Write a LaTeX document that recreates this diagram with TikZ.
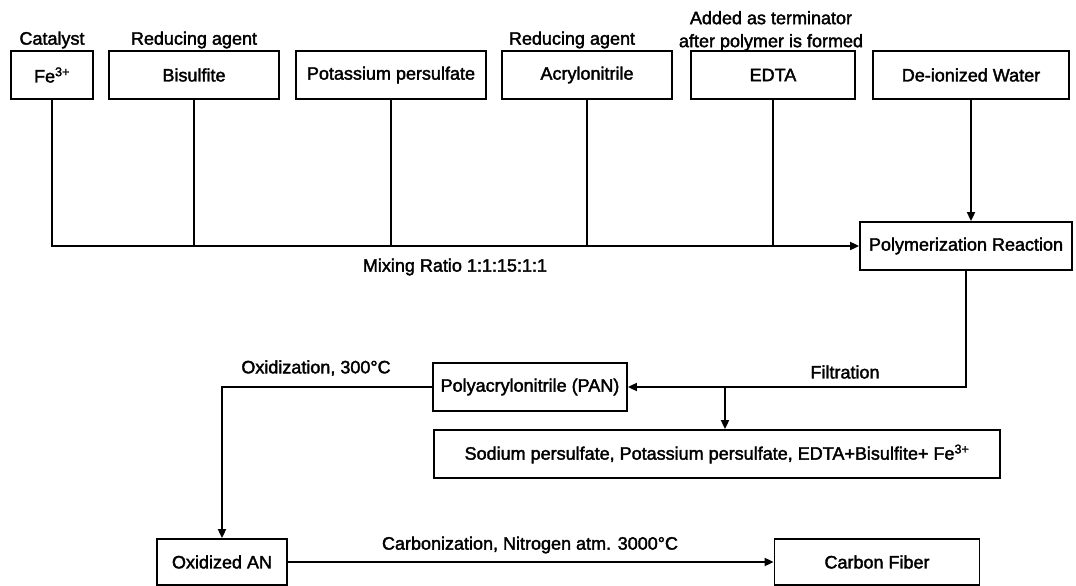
\documentclass[tikz,border=0pt]{standalone}
\usepackage{fontspec}
\setmainfont[FakeBold=2]{Liberation Sans}
\usetikzlibrary{arrows.meta,calc}
\begin{document}
\begin{tikzpicture}[x=1pt,y=-1pt,
  txt/.style={font=\fontsize{18}{23}\selectfont},
  box/.style={txt, draw, line width=1.8pt, inner sep=0pt, align=center, minimum height=48pt},
  lbl/.style={txt, inner sep=0pt, align=center},
  flow/.style={line width=1.8pt},
  arr/.style={flow, -{Triangle[length=9pt,width=8pt]}}]
\useasboundingbox (0,0) rectangle (1076,586);

% feed components
\node[box, minimum width=82pt]  (fe)    at (52,75)  {Fe\textsuperscript{3+}};
\node[box, minimum width=170pt] (bis)   at (194,75) {Bisulfite};
\node[box, minimum width=190pt] (kps)   at (391,75) {Potassium persulfate};
\node[box, minimum width=170pt] (acr)   at (587,75) {Acrylonitrile};
\node[box, minimum width=164pt] (edta)  at (773,75) {EDTA};
\node[box, minimum width=196pt] (water) at (971,75) {De-ionized Water};

% role labels above the feeds
\node[lbl] (lcat)  at (52,40)  {Catalyst};
\node[lbl] (lred1) at (194,40) {Reducing agent};
\node[lbl] (lred2) at (572,40) {Reducing agent};
\node[lbl] (lterm) at (771,31) {Added as terminator\\after polymer is formed};

% process steps
\node[box, minimum width=212pt] (poly)   at (966,246) {Polymerization Reaction};
\node[box, minimum width=194pt] (pan)    at (530,387) {Polyacrylonitrile (PAN)};
\node[box, minimum width=566pt] (sod)    at (717,454) {Sodium persulfate, Potassium persulfate, EDTA+Bisulfite+ Fe\textsuperscript{3+}};
\node[box, minimum width=130pt, minimum height=46pt] (oxan)   at (222,562) {Oxidized AN};
\node[box, minimum width=205pt, minimum height=46pt] (carbon) at (877,562) {Carbon Fiber};

% step labels
\node[lbl] (lmix)  at (455,267) {Mixing Ratio 1:1:15:1:1};
\node[lbl] (lfilt) at (845,372) {Filtration};
\node[lbl] (loxi)  at (316,368) {Oxidization, 300°C};
\node[lbl] (lcarb) at (530,545) {Carbonization, Nitrogen atm. 3000°C};

% mixing bus into the reactor
\draw[arr]  (fe.south) |- (poly.west);
\draw[flow] (bis.south)  -- (bis.south  |- poly.west);
\draw[flow] (kps.south)  -- (kps.south  |- poly.west);
\draw[flow] (acr.south)  -- (acr.south  |- poly.west);
\draw[flow] (edta.south) -- (edta.south |- poly.west);
\draw[arr]  (water.south) -- (water.south |- poly.north);

% filtration and by-products
\draw[arr] (poly.south) |- (pan.east);
\coordinate (sodin) at ($(sod.north)+(8,0)$);
\draw[arr] (sodin |- pan.east) -- (sodin);

% oxidization and carbonization
\draw[arr] (pan.west) -| (oxan.north);
\draw[arr] (oxan.east) -- (carbon.west);
\end{tikzpicture}
\end{document}
